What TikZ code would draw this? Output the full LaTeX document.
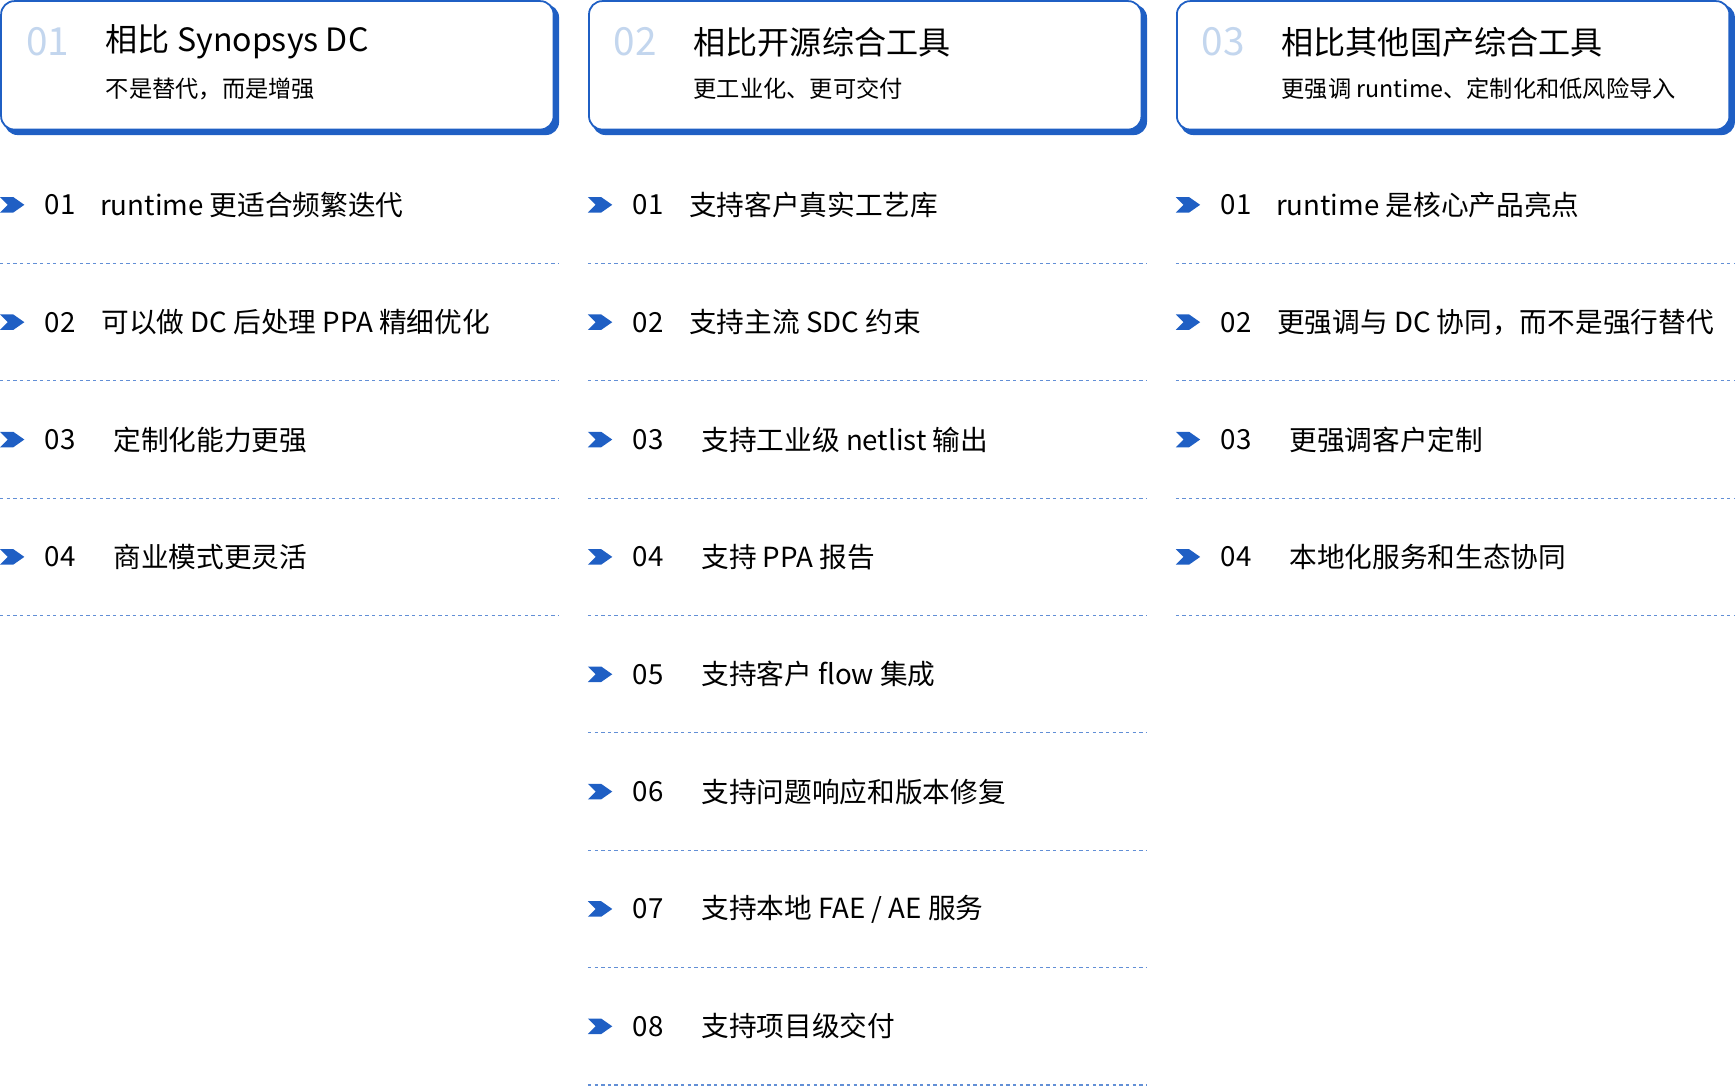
\documentclass[tikz,border=0pt]{standalone}
\usepackage{fontspec}
\setmainfont{Noto Sans CJK SC}
\newfontfamily\medfont{Noto Sans CJK SC Medium}
\begin{document}
\begin{tikzpicture}[x=1pt,y=-1pt,
  hbox/.style={draw=bl,line width=1.6pt,fill=white,rounded corners=12pt},
  num/.style={anchor=west,text=numc,font=\fontsize{35}{35}\selectfont},
  ttl/.style={anchor=west,font=\fontsize{29}{29}\selectfont},
  sub/.style={anchor=west,font=\fontsize{21}{21}\selectfont},
  itm/.style={anchor=west,font=\fontsize{25}{25}\selectfont},
  sep/.style={draw=bl!70,dash pattern=on 3pt off 3pt,line width=1pt}]
\definecolor{bl}{HTML}{1F5FC4}
\definecolor{numc}{HTML}{C3D6EE}
\useasboundingbox (0,0) rectangle (1568,981);
\newcommand{\hdr}[5]{%
  \fill[bl,rounded corners=12pt] (#1+4,4) rectangle (#1+505,122);
  \draw[hbox] (#1+1,1) rectangle (#1+500,117);
  \node[num] (n#2) at (#1+20,38) {#3};
  \node[ttl] (t#2) at (#1+92,38) {#4};
  \node[sub] (s#2) at (#1+92,80) {#5};}
\newcommand{\itemrow}[6]{%
  \fill[bl] (#1,#2-7) -- (#1+12,#2-7) -- (#1+22,#2) -- (#1+12,#2+7) -- (#1,#2+7) -- (#1+7,#2) -- cycle;
  \node[itm] (a#6) at (#1+37,#2) {#3};
  \node[itm] (b#6) at (#1+#4,#2) {#5};
  \draw[sep] (#1,#2+53) -- (#1+505,#2+53);}
\hdr{0}{1}{01}{相比 Synopsys DC}{不是替代，而是增强}
\hdr{531}{2}{02}{相比开源综合工具}{更工业化、更可交付}
\hdr{1062}{3}{03}{相比其他国产综合工具}{更强调 runtime、定制化和低风险导入}
\itemrow{0}{185}{01}{87}{runtime 更适合频繁迭代}{11}
\itemrow{0}{291}{02}{88}{可以做 DC 后处理 PPA 精细优化}{12}
\itemrow{0}{397}{03}{99}{定制化能力更强}{13}
\itemrow{0}{503}{04}{99}{商业模式更灵活}{14}
\itemrow{531}{185}{01}{88}{支持客户真实工艺库}{21}
\itemrow{531}{291}{02}{88}{支持主流 SDC 约束}{22}
\itemrow{531}{397}{03}{99}{支持工业级 netlist 输出}{23}
\itemrow{531}{503}{04}{99}{支持 PPA 报告}{24}
\itemrow{531}{609}{05}{99}{支持客户 flow 集成}{25}
\itemrow{531}{715}{06}{99}{支持问题响应和版本修复}{26}
\itemrow{531}{821}{07}{99}{支持本地 FAE / AE 服务}{27}
\itemrow{531}{927}{08}{99}{支持项目级交付}{28}
\itemrow{1062}{185}{01}{87}{runtime 是核心产品亮点}{31}
\itemrow{1062}{291}{02}{88}{更强调与 DC 协同，而不是强行替代}{32}
\itemrow{1062}{397}{03}{99}{更强调客户定制}{33}
\itemrow{1062}{503}{04}{99}{本地化服务和生态协同}{34}
\end{tikzpicture}
\end{document}
